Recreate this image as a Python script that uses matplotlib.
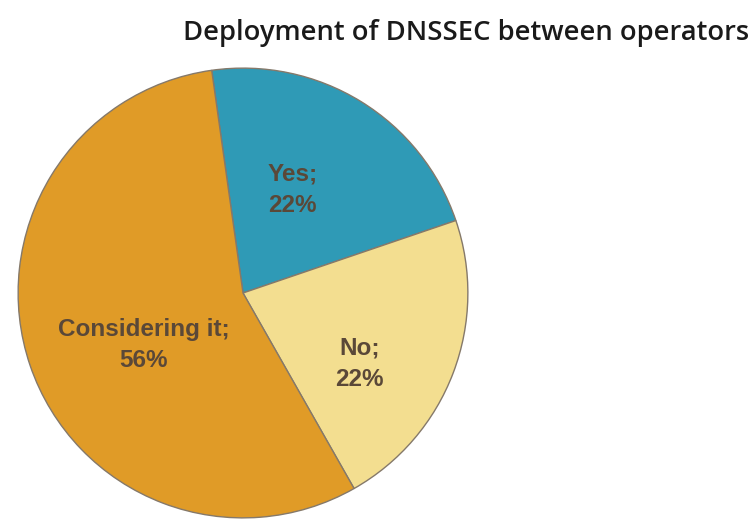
"""Pie chart: deployment of DNSSEC between operators."""
import numpy as np
import matplotlib
matplotlib.use("Agg")
import matplotlib.pyplot as plt

labels = ["Yes", "No", "Considering it"]
shares = [22, 22, 56]
colors = ["#2f9ab6", "#f3de90", "#e09b27"]

# label anchor points in data units (pie radius = 1)
label_xy = [(0.221, 0.46), (0.518, -0.315), (-0.442, -0.23)]

W, H = 755, 520
fig = plt.figure(figsize=(W / 100, H / 100), dpi=100)

cx, cy, r = 243, 293, 226
ax = fig.add_axes([(cx - r) / W, 1 - (cy + r) / H, 2 * r / W, 2 * r / H])

ax.pie(shares, colors=colors, startangle=98, counterclock=False,
       radius=1.0, center=(0, 0),
       wedgeprops=dict(edgecolor="#85796a", linewidth=1.0))
ax.set_xlim(-1.005, 1.005)
ax.set_ylim(-1.005, 1.005)
ax.axis("off")

for lab, val, (x, y) in zip(labels, shares, label_xy):
    ax.text(x, y, f"{lab};\n{val}%", ha="center", va="center",
            fontsize=17.5, fontweight="bold", color="#5a4838",
            family="Liberation Sans", linespacing=1.45)

fig.text(0.992, 1 - 33 / H, "Deployment of DNSSEC between operators",
         ha="right", va="center", fontsize=19.7, color="#1a1a1a",
         fontweight="semibold", family=["Open Sans", "DejaVu Sans"])

fig.savefig("out.png", dpi=100)
